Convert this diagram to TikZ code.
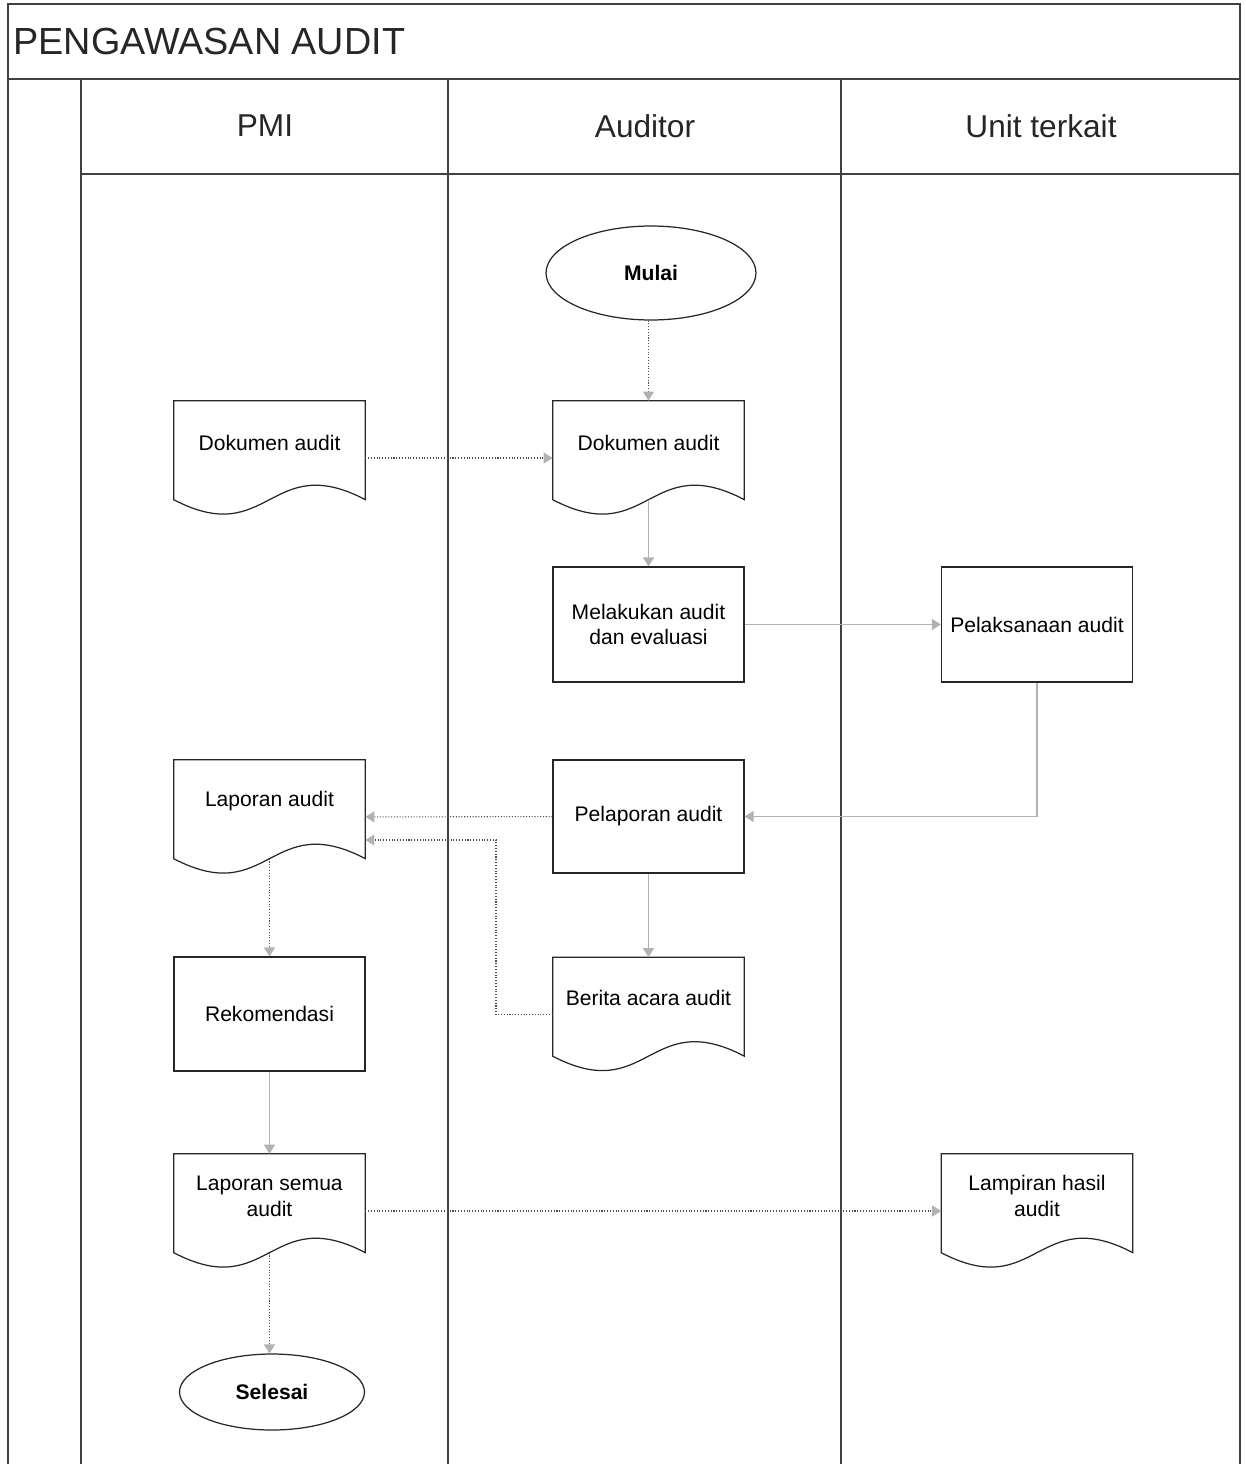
\documentclass[tikz,border=0pt]{standalone}
\usepackage{fontspec}
\setmainfont{Liberation Sans}
\usetikzlibrary{arrows.meta,calc,shapes.geometric}
\newcommand\docshape[1]{%
  \draw[docline] (#1.north west) -- (#1.north east) -- ([yshift=-1.98cm]#1.north east)
    .. controls +(-1.91cm,1.0cm) and +(1.91cm,-1.0cm) .. ([yshift=-1.98cm]#1.north west) -- cycle;}
\begin{document}
\begin{tikzpicture}[x=0.02cm,y=-0.02cm,
  lane/.style={draw=black!75, line width=0.9pt},
  docbox/.style={rectangle, draw=none, minimum width=3.82cm, minimum height=2.28cm, inner sep=0pt},
  docline/.style={draw=black!85, line width=0.7pt},
  procbox/.style={rectangle, draw=black!85, line width=0.7pt, minimum width=3.82cm, minimum height=2.3cm, inner sep=2pt, align=center, font=\fontsize{12}{14.7}\selectfont},
  txt/.style={align=center, font=\fontsize{12}{14.7}\selectfont, inner sep=0pt},
  term/.style={ellipse, draw=black!85, line width=0.7pt, inner sep=0pt, font=\bfseries\fontsize{12}{14.7}\selectfont},
  hdr/.style={font=\fontsize{18}{21}\selectfont, text=black!85},
  tip/.style={-{Triangle[length=0.18cm,width=0.22cm,fill=gray!60,color=gray!60]}},
  flow/.style={densely dotted, draw=black!70, line width=0.6pt, tip},
  flowlight/.style={draw=gray!60, line width=0.6pt, tip}]
\useasboundingbox (0,0) rectangle (1245,1464);
% frame
\draw[lane] (8,1464) -- (8,4) -- (1240,4) -- (1240,1464);
\draw[lane] (8,79) -- (1240,79);
\draw[lane] (81,79) -- (81,1464);
\draw[lane] (448,79) -- (448,1464);
\draw[lane] (841,79) -- (841,1464);
\draw[lane] (81,174) -- (1240,174);
\node[anchor=west, font=\fontsize{21.5}{25}\selectfont, text=black!85, inner sep=0pt] (title) at (13,41) {PENGAWASAN AUDIT};
\node[hdr] (hpmi) at (265,126) {PMI};
\node[hdr] (hauditor) at (645,126) {Auditor};
\node[hdr] (hunit) at (1041,126) {Unit terkait};
% nodes
\node[term, minimum width=4.2cm, minimum height=1.88cm] (mulai) at (651,273) {Mulai};
\node[docbox] (d1) at (269.5,458) {};
\docshape{d1}
\node[txt] (d1t) at (269.5,443) {Dokumen audit};
\node[docbox] (d2) at (648.5,458) {};
\docshape{d2}
\node[txt] (d2t) at (648.5,443) {Dokumen audit};
\node[procbox] (melakukan) at (648.5,624.5) {Melakukan audit\\dan evaluasi};
\node[procbox] (pelaksanaan) at (1037,624.5) {Pelaksanaan audit};
\node[procbox, minimum height=2.26cm] (pelaporan) at (648.5,816.5) {Pelaporan audit};
\node[docbox] (lap) at (269.5,817) {};
\docshape{lap}
\node[txt] (lapt) at (269.5,801) {Laporan audit};
\node[docbox] (berita) at (648.5,1014.5) {};
\docshape{berita}
\node[txt] (beritat) at (648.5,998) {Berita acara audit};
\node[procbox, minimum height=2.28cm] (rekom) at (269.5,1014) {Rekomendasi};
\node[docbox] (lapsem) at (269.5,1211) {};
\docshape{lapsem}
\node[txt] (lapsemt) at (269.5,1196) {Laporan semua\\audit};
\node[docbox] (lamp) at (1037,1211) {};
\docshape{lamp}
\node[txt] (lampt) at (1037,1196) {Lampiran hasil\\audit};
\node[term, minimum width=3.7cm, minimum height=1.52cm] (selesai) at (272,1392) {Selesai};
% connectors
\coordinate (bend) at (496,840);
\draw[flow] (d2.north |- mulai.south) -- (d2.north);
\draw[flow] (d1) -- (d2);
\draw[flowlight] ([yshift=-1.98cm]d2.north) -- (melakukan);
\draw[flowlight] (melakukan) -- (pelaksanaan);
\draw[flowlight] (pelaksanaan.south) |- (pelaporan.east);
\draw[flow] (pelaporan) -- (lap);
\draw[flow] (berita.west) -| (bend) -- (lap.east |- bend);
\draw[flowlight] (pelaporan) -- (berita);
\draw[flow] ([yshift=-1.98cm]lap.north) -- (rekom);
\draw[flowlight] (rekom) -- (lapsem);
\draw[flow] (lapsem) -- (lamp);
\draw[flow] ([yshift=-1.98cm]lapsem.north) -- (lapsem.center |- selesai.north);
\end{tikzpicture}
\end{document}
